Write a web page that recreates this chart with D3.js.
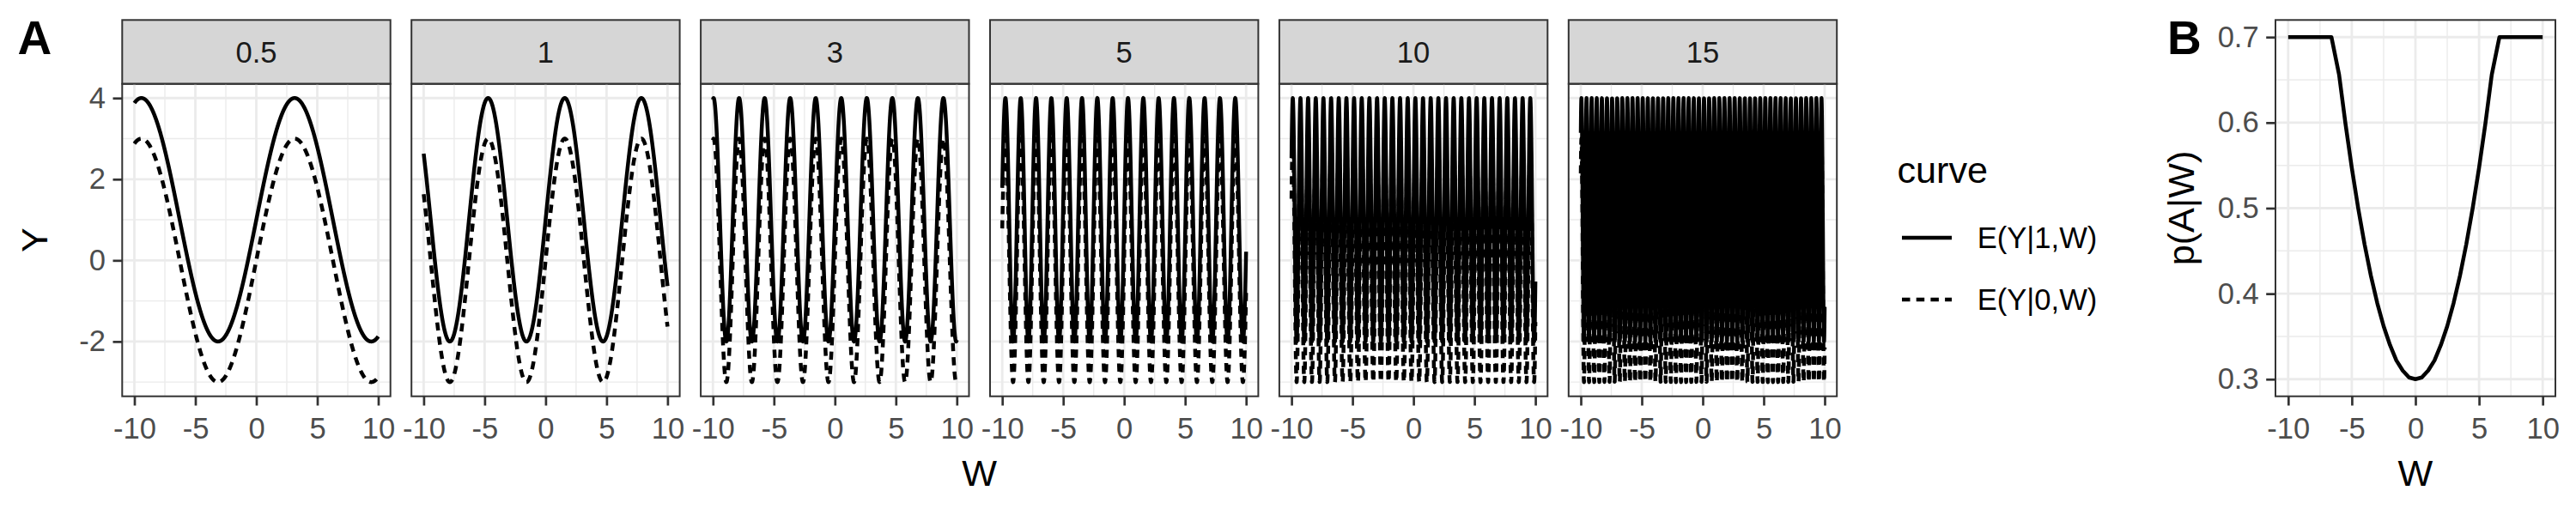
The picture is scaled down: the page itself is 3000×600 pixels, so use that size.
<!DOCTYPE html>
<html>
<head>
<meta charset="utf-8">
<script src="https://cdn.jsdelivr.net/npm/d3@7"></script>
<style>
  html, body { margin: 0; padding: 0; background: #ffffff; }
  svg { display: block; }
  text { font-family: "Liberation Sans", Arial, Helvetica, sans-serif; }
</style>
</head>
<body>
<script>
// ---------------- DATA ----------------
// Panel A: facets (frequency of the sinusoid in W)
const facetFrequencies = [0.5, 1, 3, 5, 10, 15];
const facetLabels = ["0.5", "1", "3", "5", "10", "15"];
// Curves: — solid oscillates between -2 and 4, dashed between -3 and 3
const curveNames = ["E(Y|1,W)", "E(Y|0,W)"];
const curveOffsets = [1, 0];
const curveAmplitudes = [3, 3];
const curveDash = ["none", "9.5,7.2"];
// W grid on which the curves are evaluated
const wMin = -10, wMax = 10, wStep = 0.01;

// Panel B: p(A|W)
const propW = [-10, -9, -8, -7, -6.6, -6, -5.5, -5, -4.5, -4, -3.5, -3, -2.5, -2, -1.5, -1, -0.5,
               0, 0.5, 1, 1.5, 2, 2.5, 3, 3.5, 4, 4.5, 5, 5.5, 6, 6.6, 7, 8, 9, 10];
const propP = [0.70, 0.70, 0.70, 0.70, 0.70, 0.656, 0.599, 0.547, 0.500, 0.458, 0.421, 0.389, 0.362, 0.340, 0.322, 0.310, 0.302,
               0.300, 0.302, 0.310, 0.322, 0.340, 0.362, 0.389, 0.421, 0.458, 0.500, 0.547, 0.599, 0.656, 0.70, 0.70, 0.70, 0.70, 0.70];

// Axis ticks
const xTicks = [-10, -5, 0, 5, 10];
const xMinor = [-7.5, -2.5, 2.5, 7.5];
const yTicksA = [-2, 0, 2, 4];
const yMinorA = [-3, -1, 1, 3];
const yTicksB = [0.3, 0.4, 0.5, 0.6, 0.7];
const yMinorB = [0.35, 0.45, 0.55, 0.65];

// ---------------- LAYOUT ----------------
const W = 3000, H = 600;
const tickFont = 34.6, titleFont = 43.2, tagFont = 55;
const tickLen = 10.8;
const panelA = { left0: 142.3, step: 336.9, width: 312.4, stripTop: 23.3, top: 97.7, bottom: 461.7 };
const panelB = { left: 2650, right: 2976, top: 23.3, bottom: 461.7 };

const svg = d3.select("body").append("svg").attr("width", W).attr("height", H);
svg.append("rect").attr("width", W).attr("height", H).attr("fill", "#ffffff");

const wValues = d3.range(wMin, wMax + wStep / 2, wStep);

const yA = d3.scaleLinear().domain([-3.35, 4.35]).range([panelA.bottom, panelA.top]);

function drawGrid(g, x, y, xMaj, xMin, yMaj, yMin, x0, x1, y0, y1) {
  g.selectAll(".gmx").data(xMin).enter().append("line")
    .attr("x1", d => x(d)).attr("x2", d => x(d)).attr("y1", y0).attr("y2", y1)
    .attr("stroke", "#EBEBEB").attr("stroke-width", 1.4);
  g.selectAll(".gmy").data(yMin).enter().append("line")
    .attr("y1", d => y(d)).attr("y2", d => y(d)).attr("x1", x0).attr("x2", x1)
    .attr("stroke", "#EBEBEB").attr("stroke-width", 1.4);
  g.selectAll(".gMx").data(xMaj).enter().append("line")
    .attr("x1", d => x(d)).attr("x2", d => x(d)).attr("y1", y0).attr("y2", y1)
    .attr("stroke", "#EBEBEB").attr("stroke-width", 2.8);
  g.selectAll(".gMy").data(yMaj).enter().append("line")
    .attr("y1", d => y(d)).attr("y2", d => y(d)).attr("x1", x0).attr("x2", x1)
    .attr("stroke", "#EBEBEB").attr("stroke-width", 2.8);
}

function styleAxis(sel) {
  sel.select(".domain").remove();
  sel.selectAll(".tick line").attr("stroke", "#333333").attr("stroke-width", 2.7);
  sel.selectAll(".tick text").attr("fill", "#4D4D4D").attr("font-size", tickFont)
    .attr("font-family", "'Liberation Sans', Arial, sans-serif");
}

// ---------------- PANEL A ----------------
facetFrequencies.forEach((freq, i) => {
  const left = panelA.left0 + i * panelA.step;
  const right = left + panelA.width;
  const x = d3.scaleLinear().domain([-11, 11]).range([left, right]);
  const g = svg.append("g");

  // strip
  g.append("rect").attr("x", left).attr("y", panelA.stripTop)
    .attr("width", panelA.width).attr("height", panelA.top - panelA.stripTop)
    .attr("fill", "#D6D6D6").attr("stroke", "#333333").attr("stroke-width", 2);
  g.append("text").attr("x", (left + right) / 2).attr("y", (panelA.stripTop + panelA.top) / 2)
    .attr("dy", "0.36em").attr("text-anchor", "middle").attr("font-size", tickFont)
    .attr("fill", "#1A1A1A").text(facetLabels[i]);

  drawGrid(g, x, yA, xTicks, xMinor, yTicksA, yMinorA, left, right, panelA.top, panelA.bottom);

  // curves
  const clipId = "clipA" + i;
  svg.append("clipPath").attr("id", clipId).append("rect")
    .attr("x", left).attr("y", panelA.top).attr("width", panelA.width).attr("height", panelA.bottom - panelA.top);
  const cg = g.append("g").attr("clip-path", `url(#${clipId})`);
  curveNames.forEach((name, k) => {
    const pts = wValues.map(w => [w, curveOffsets[k] + curveAmplitudes[k] * Math.sin(freq * w)]);
    const line = d3.line().x(d => x(d[0])).y(d => yA(d[1]));
    cg.append("path").attr("d", line(pts)).attr("fill", "none").attr("stroke", "#000000")
      .attr("stroke-width", 4.5).attr("stroke-linejoin", "round").attr("stroke-linecap", "butt")
      .attr("stroke-dasharray", curveDash[k]);
  });

  // border
  g.append("rect").attr("x", left).attr("y", panelA.top).attr("width", panelA.width)
    .attr("height", panelA.bottom - panelA.top).attr("fill", "none")
    .attr("stroke", "#333333").attr("stroke-width", 2);

  // axes
  const ax = g.append("g").attr("transform", `translate(0,${panelA.bottom})`)
    .call(d3.axisBottom(x).tickValues(xTicks).tickFormat(d3.format("d")).tickSize(tickLen).tickSizeOuter(0).tickPadding(13.5));
  styleAxis(ax);
  ax.selectAll(".tick text").text(d => d < 0 ? "-" + Math.abs(d) : d);
  if (i === 0) {
    const ay = g.append("g").attr("transform", `translate(${left},0)`)
      .call(d3.axisLeft(yA).tickValues(yTicksA).tickSize(tickLen).tickSizeOuter(0).tickPadding(8.5));
    styleAxis(ay);
    ay.selectAll(".tick text").text(d => d < 0 ? "-" + Math.abs(d) : d);
  }
});

// A titles
svg.append("text").attr("transform", `translate(55,${(panelA.top + panelA.bottom) / 2}) rotate(-90)`)
  .attr("text-anchor", "middle").attr("font-size", titleFont).attr("fill", "#000").text("Y");
svg.append("text").attr("x", (panelA.left0 + 5 * panelA.step + panelA.width + panelA.left0) / 2).attr("y", 566)
  .attr("text-anchor", "middle").attr("font-size", titleFont).attr("fill", "#000").text("W");
svg.append("text").attr("x", 20.5).attr("y", 63.3).attr("font-size", tagFont)
  .attr("font-weight", "bold").attr("fill", "#000").text("A");

// ---------------- LEGEND ----------------
const leg = svg.append("g");
leg.append("text").attr("x", 2209.5).attr("y", 213).attr("font-size", titleFont).attr("fill", "#000").text("curve");
const legY = [277, 349];
curveNames.forEach((name, k) => {
  leg.append("line").attr("x1", 2215).attr("x2", 2273).attr("y1", legY[k]).attr("y2", legY[k])
    .attr("stroke", "#000").attr("stroke-width", 4.5).attr("stroke-dasharray", curveDash[k]);
  leg.append("text").attr("x", 2302.7).attr("y", legY[k]).attr("dy", "0.36em")
    .attr("font-size", tickFont).attr("fill", "#000").text(name);
});

// ---------------- PANEL B ----------------
const xB = d3.scaleLinear().domain([-11, 11]).range([panelB.left, panelB.right]);
const yB = d3.scaleLinear().domain([0.28, 0.72]).range([panelB.bottom, panelB.top]);
const gB = svg.append("g");
drawGrid(gB, xB, yB, xTicks, xMinor, yTicksB, yMinorB, panelB.left, panelB.right, panelB.top, panelB.bottom);
const bPts = propW.map((w, i) => [w, propP[i]]);
gB.append("path").attr("d", d3.line().x(d => xB(d[0])).y(d => yB(d[1]))(bPts))
  .attr("fill", "none").attr("stroke", "#000").attr("stroke-width", 4.5)
  .attr("stroke-linejoin", "round").attr("stroke-linecap", "butt");
gB.append("rect").attr("x", panelB.left).attr("y", panelB.top)
  .attr("width", panelB.right - panelB.left).attr("height", panelB.bottom - panelB.top)
  .attr("fill", "none").attr("stroke", "#333333").attr("stroke-width", 2);
const bx = gB.append("g").attr("transform", `translate(0,${panelB.bottom})`)
  .call(d3.axisBottom(xB).tickValues(xTicks).tickSize(tickLen).tickSizeOuter(0).tickPadding(13.5));
styleAxis(bx);
bx.selectAll(".tick text").text(d => d < 0 ? "-" + Math.abs(d) : d);
const by = gB.append("g").attr("transform", `translate(${panelB.left},0)`)
  .call(d3.axisLeft(yB).tickValues(yTicksB).tickFormat(d3.format(".1f")).tickSize(tickLen).tickSizeOuter(0).tickPadding(8.5));
styleAxis(by);
svg.append("text").attr("transform", `translate(2555,${(panelB.top + panelB.bottom) / 2}) rotate(-90)`)
  .attr("text-anchor", "middle").attr("font-size", titleFont).attr("fill", "#000").text("p(A|W)");
svg.append("text").attr("x", (panelB.left + panelB.right) / 2).attr("y", 566)
  .attr("text-anchor", "middle").attr("font-size", titleFont).attr("fill", "#000").text("W");
svg.append("text").attr("x", 2524).attr("y", 63.3).attr("font-size", tagFont)
  .attr("font-weight", "bold").attr("fill", "#000").text("B");
</script>
</body>
</html>
